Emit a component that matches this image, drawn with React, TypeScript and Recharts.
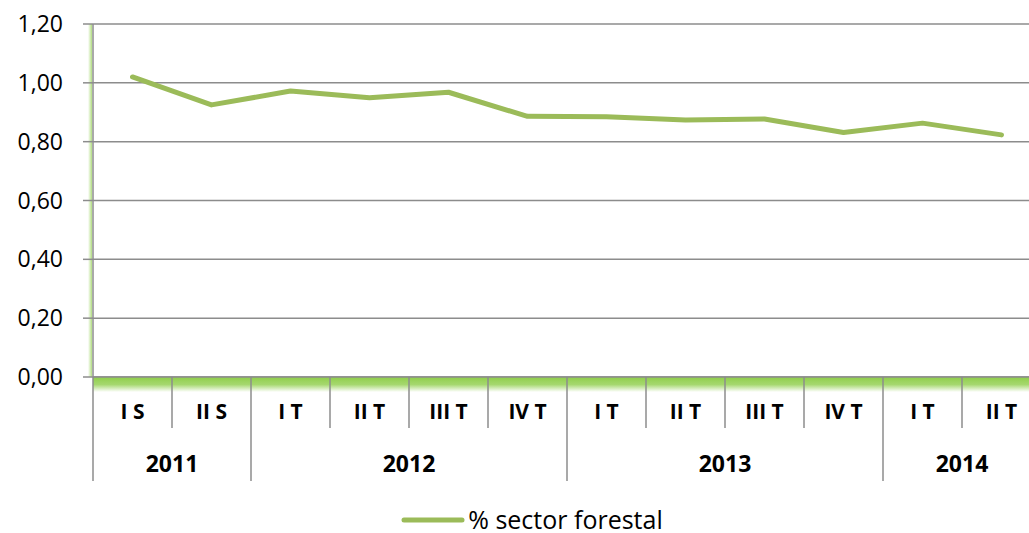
import * as Recharts from "recharts";
import { LineChart, Line, XAxis, YAxis, CartesianGrid, Legend } from "recharts";

// quarters / semesters on the first axis row, years on the second
const PERIODS = ["I S", "II S", "I T", "II T", "III T", "IV T", "I T", "II T", "III T", "IV T", "I T", "II T"];
const YEARS = ["2011", "2011", "2012", "2012", "2012", "2012", "2013", "2013", "2013", "2013", "2014", "2014"];
const FORESTAL = [1.02, 0.925, 0.972, 0.949, 0.968, 0.886, 0.885, 0.874, 0.877, 0.831, 0.863, 0.823];
const Y_TICKS = [0, 0.2, 0.4, 0.6, 0.8, 1.0, 1.2];

const data = PERIODS.map((p, i) => ({ idx: i, period: p, year: YEARS[i], forestal: FORESTAL[i] }));
const X_TICKS = PERIODS.map((_, i) => i);

const GREEN = "#9BBB59";
const GRID = "#8c8c8c";
const FONT = "'Open Sans', 'Noto Sans', sans-serif";

const R: any = Recharts;
function usePlot() {
  const hook = R.usePlotArea ?? R.useOffset;
  const p = hook ? hook() : null;
  if (!p) return null;
  if (p.x !== undefined) return p;
  return { x: p.left, y: p.top, width: p.width, height: p.height };
}

function fmt(v: number) {
  return v.toFixed(2).replace(".", ",");
}

// two-row category axis: period label + separators, year label centred on its group
function PeriodTick(props: any) {
  const { x, y, payload } = props;
  const plot = usePlot();
  const i = Math.round(payload.value);
  const step = plot ? plot.width / PERIODS.length : 79;
  const left = x - step / 2;
  const isGroupStart = i === 0 || YEARS[i] !== YEARS[i - 1];
  let groupLen = 0;
  if (isGroupStart) {
    while (i + groupLen < YEARS.length && YEARS[i + groupLen] === YEARS[i]) groupLen++;
  }
  return (
    <g>
      <line x1={left} x2={left} y1={y} y2={y + (isGroupStart ? 104 : 51)} stroke={GRID} strokeWidth={1.5} />
      <text x={x} y={y + 42} textAnchor="middle" fontFamily={FONT} fontWeight={700} fontSize={21} fill="#000">
        {PERIODS[i]}
      </text>
      {isGroupStart && (
        <text x={left + (groupLen * step) / 2} y={y + 95} textAnchor="middle" fontFamily={FONT} fontWeight={700} fontSize={23} fill="#000">
          {YEARS[i]}
        </text>
      )}
    </g>
  );
}

// soft green glow under the category axis and left of the value axis
function AxisGlow() {
  const plot = usePlot();
  if (!plot) return null;
  const bottom = plot.y + plot.height;
  return (
    <g>
      <defs>
        <linearGradient id="glowDown" x1="0" y1="0" x2="0" y2="1">
          <stop offset="0%" stopColor="#8fce4a" stopOpacity={1} />
          <stop offset="50%" stopColor="#8fce4a" stopOpacity={0.8} />
          <stop offset="100%" stopColor="#8fce4a" stopOpacity={0} />
        </linearGradient>
        <linearGradient id="glowLeft" x1="1" y1="0" x2="0" y2="0">
          <stop offset="0%" stopColor="#8fce4a" stopOpacity={0.7} />
          <stop offset="100%" stopColor="#8fce4a" stopOpacity={0} />
        </linearGradient>
      </defs>
      <rect x={plot.x} y={bottom} width={plot.width} height={15} fill="url(#glowDown)" />
      <rect x={plot.x - 5} y={plot.y} width={4} height={plot.height} fill="url(#glowLeft)" />
    </g>
  );
}

function LegendContent() {
  return (
    <div style={{ display: "flex", justifyContent: "center", alignItems: "center", paddingTop: 29, marginLeft: 10, height: 27 }}>
      <svg width={64} height={10} style={{ marginRight: 3 }}>
        <line x1={3} x2={61} y1={5} y2={5} stroke={GREEN} strokeWidth={5} strokeLinecap="round" />
      </svg>
      <span style={{ fontFamily: FONT, fontSize: 25, color: "#000", lineHeight: "27px" }}>% sector forestal</span>
    </div>
  );
}

export default function App() {
  return (
    <div style={{ width: 1029, height: 533, overflow: "hidden", background: "#fff" }}>
      <style>{"body{margin:0}"}</style>
      <LineChart width={1045} height={533} data={data} margin={{ top: 24, right: 4, left: 13, bottom: 0 }}>
        <CartesianGrid vertical={false} stroke={GRID} strokeWidth={1.5} />
        <AxisGlow />
        <XAxis
          dataKey="idx"
          type="number"
          domain={[-0.5, PERIODS.length - 0.5]}
          ticks={X_TICKS}
          interval={0}
          height={100}
          tickLine={false}
          tickSize={0}
          tickMargin={0}
          axisLine={{ stroke: GRID, strokeWidth: 1.5 }}
          tick={(p: any) => <PeriodTick {...p} />}
        />
        <YAxis
          domain={[0, 1.2]}
          ticks={Y_TICKS}
          tickFormatter={fmt}
          width={80}
          tickSize={10}
          tickMargin={20}
          axisLine={{ stroke: GRID, strokeWidth: 1.5 }}
          tickLine={{ stroke: GRID, strokeWidth: 1.5 }}
          tick={{ fontFamily: FONT, fontSize: 23, fill: "#000" }}
        />
        <Legend verticalAlign="bottom" height={56} content={() => <LegendContent />} />
        <Line
          type="linear"
          dataKey="forestal"
          name="% sector forestal"
          stroke={GREEN}
          strokeWidth={5}
          strokeLinecap="round"
          strokeLinejoin="round"
          dot={false}
          activeDot={false}
          isAnimationActive={false}
        />
      </LineChart>
    </div>
  );
}
